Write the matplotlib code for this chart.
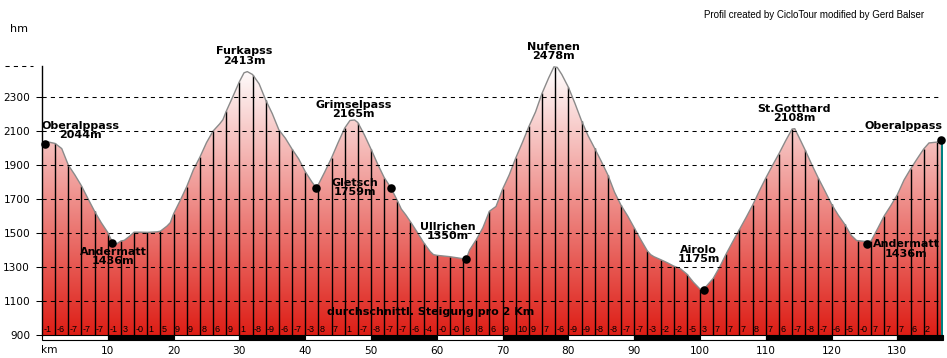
import numpy as np
import matplotlib
matplotlib.use("Agg")
import matplotlib.pyplot as plt
from matplotlib.patches import Polygon, Rectangle
from matplotlib.colors import LinearSegmentedColormap
from matplotlib.lines import Line2D
import matplotlib.transforms as mtransforms

# ---------------- data ----------------
profile_km = [0.0, 0.8, 2.0, 3.0, 4.0, 5.0, 6.0, 7.0, 8.0, 9.0, 10.0, 10.8, 11.2, 12.0, 12.5,
              13.3, 14.0, 15.0, 16.0, 17.5, 18.0, 19.0, 19.5, 20.0, 21.0, 22.0, 23.0, 24.0,
              25.0, 26.0, 27.0, 27.5, 28.0, 29.0, 30.0, 30.7, 31.2, 32.0, 33.0, 34.0, 35.0,
              36.0, 37.0, 38.0, 39.0, 40.0, 41.0, 41.6, 42.0, 43.0, 44.0, 45.0, 46.0, 46.8,
              47.5, 48.0, 49.0, 50.0, 51.0, 52.0, 53.0, 54.0, 54.6, 55.3, 56.0, 57.0, 58.0,
              59.0, 59.5, 60.0, 62.0, 64.0, 64.5, 65.0, 66.0, 67.0, 68.0, 69.0, 70.0, 71.0,
              72.0, 73.0, 74.0, 75.0, 76.0, 77.0, 77.8, 78.3, 79.0, 80.0, 81.0, 82.0, 83.0,
              84.0, 85.0, 86.0, 87.0, 88.0, 89.0, 90.0, 91.0, 92.0, 92.5, 93.0, 94.0, 95.0,
              96.0, 97.0, 98.0, 99.0, 100.0, 100.5, 101.0, 102.0, 103.0, 104.0, 105.0, 106.0,
              107.0, 108.0, 109.0, 110.0, 111.0, 112.0, 113.0, 114.0, 114.4, 115.0, 116.0,
              117.0, 118.0, 119.0, 120.0, 121.0, 122.0, 123.0, 123.8, 125.0, 126.0, 127.0,
              128.0, 129.0, 130.0, 131.0, 132.0, 133.0, 134.0, 134.8, 136.0, 136.8]
profile_elev = [2035, 2035, 2025, 1995, 1898, 1840, 1776, 1700, 1626, 1560, 1502, 1437, 1432,
                1452, 1456, 1480, 1504, 1504, 1503, 1506, 1510, 1540, 1560, 1612, 1690, 1772,
                1870, 1945, 2030, 2098, 2140, 2165, 2214, 2300, 2388, 2440, 2447, 2430, 2375,
                2280, 2200, 2105, 2055, 1992, 1935, 1860, 1800, 1768, 1784, 1860, 1940, 2030,
                2115, 2160, 2163, 2148, 2075, 1992, 1905, 1825, 1766, 1690, 1640, 1605, 1565,
                1505, 1443, 1390, 1372, 1368, 1360, 1348, 1350, 1400, 1460, 1530, 1627, 1655,
                1757, 1840, 1940, 2030, 2125, 2210, 2320, 2410, 2475, 2472, 2430, 2355, 2260,
                2158, 2070, 1996, 1920, 1840, 1740, 1662, 1600, 1530, 1460, 1394, 1372, 1360,
                1343, 1325, 1305, 1290, 1258, 1210, 1170, 1165, 1188, 1232, 1300, 1378, 1450,
                1520, 1590, 1663, 1745, 1822, 1895, 1965, 2040, 2110, 2112, 2065, 1985, 1900,
                1820, 1745, 1668, 1605, 1550, 1485, 1455, 1450, 1452, 1525, 1600, 1660, 1725,
                1810, 1875, 1935, 1993, 2028, 2033, 2045]

grade_labels = ["-1", "-6", "-7", "-7", "-7", "-1", "3", "-0", "1", "5", "9", "9", "8", "6", "9",
                "1", "-8", "-9", "-6", "-7", "-3", "8", "7", "1", "-7", "-8", "-7", "-7", "-6",
                "-4", "-0", "-0", "6", "8", "6", "9", "10", "9", "7", "-6", "-9", "-9", "-8",
                "-8", "-7", "-7", "-3", "-2", "-2", "-5", "3", "7", "7", "7", "8", "7", "6",
                "-7", "-8", "-7", "-6", "-5", "-0", "7", "7", "7", "6", "2"]
grade_step_km = 2

dot_km = [0.4, 10.6, 41.6, 53.0, 64.5, 100.6, 125.4, 136.7]
dot_elev = [2020, 1441, 1765, 1765, 1349, 1162, 1435, 2045]

place_names = ["Oberalppass\n2044m", "Andermatt\n1436m", "Furkapss\n2413m",
               "Grimselpass\n2165m", "Gletsch\n1759m", "Ullrichen\n1350m",
               "Nufenen\n2478m", "Airolo\n1175m", "St.Gotthard\n2108m",
               "Andermatt\n1436m", "Oberalppass"]
place_km = [5.9, 10.8, 30.7, 47.3, 47.6, 61.7, 77.7, 99.8, 114.3, 131.3, 131.0]
place_elev = [2101, 1361, 2538, 2224, 1766, 1508, 2565, 1373, 2201, 1405, 2127]

ytick_values = [900, 1100, 1300, 1500, 1700, 1900, 2100, 2300]
xtick_values = [10, 20, 30, 40, 50, 60, 70, 80, 90, 100, 110, 120, 130]

X_MAX = 136.93
Y_MIN, Y_MAX = 900, 2480

# ---------------- figure ----------------
W, H = 947, 358
fig = plt.figure(figsize=(W / 100, H / 100), dpi=100)
fig.patch.set_facecolor("white")
ax = fig.add_axes([42 / W, (H - 335) / H, (943 - 42) / W, (335 - 66) / H])
ax.set_xlim(0, X_MAX)
ax.set_ylim(Y_MIN, Y_MAX)

km = np.array(profile_km)
el = np.array(profile_elev)

# gradient-filled profile
verts = [(km[0], Y_MIN)] + list(zip(km, el)) + [(km[-1], Y_MIN)]
poly = Polygon(verts, closed=True, facecolor="none", edgecolor="none")
ax.add_patch(poly)
cmap = LinearSegmentedColormap.from_list("redwhite", [(222 / 255, 30 / 255, 22 / 255), (1, 1, 1)])
grad = np.linspace(0, 1, 256).reshape(-1, 1)
im = ax.imshow(grad, extent=[0, X_MAX, Y_MIN, Y_MAX], origin="lower", aspect="auto",
               cmap=cmap, zorder=1)
im.set_clip_path(poly)

# vertical 2-km lines
grid_km = np.arange(grade_step_km, km[-1], grade_step_km)
ax.vlines(grid_km, Y_MIN, np.interp(grid_km, km, el), colors="black", lw=1.0, zorder=2)

# outline
ax.plot(km, el, color="#8a8a8a", lw=1.0, zorder=3)

# right teal line
ax.vlines([km[-1]], Y_MIN, el[-1], colors="#008080", lw=1.5, zorder=3)

# dashed grid lines
ax.hlines(ytick_values[1:], 0, 136.2, colors="black", lw=0.75,
          linestyles=(0, (4, 4)), zorder=4)

# dots
ax.scatter(dot_km, dot_elev, s=38, color="black", zorder=6, clip_on=False, linewidths=0)

# place labels
for name, xk, ye in zip(place_names, place_km, place_elev):
    ax.text(xk, ye, name, ha="center", va="center", multialignment="center",
            fontsize=8, fontweight="bold", family="DejaVu Sans", linespacing=0.95,
            color="black", zorder=7, clip_on=False)

# gradient numbers
for i, lab in enumerate(grade_labels):
    ax.text(i * grade_step_km + 0.2, 935, lab, ha="left", va="center",
            fontsize=6.5, family="Liberation Sans", color="black", zorder=7)

ax.text(59.0, 1038, "durchschnittl. Steigung pro 2 Km", ha="center", va="center",
        fontsize=8, fontweight="bold", family="DejaVu Sans", color="black", zorder=7)

# spines & ticks
for s in ["top", "right", "bottom"]:
    ax.spines[s].set_visible(False)
ax.spines["left"].set_color("black")
ax.spines["left"].set_linewidth(1.0)
ax.spines["left"].set_zorder(8)

ax.set_yticks(ytick_values)
ax.set_yticklabels([str(v) for v in ytick_values], fontsize=7.6, family="DejaVu Sans")
ax.tick_params(axis="y", length=4, width=0.75, pad=4.5, direction="out")
ax.set_xticks(xtick_values)
ax.set_xticklabels([str(v) for v in xtick_values], fontsize=7.6, family="DejaVu Sans")
ax.tick_params(axis="x", length=0, pad=8)

# km bar below axis
trans = mtransforms.blended_transform_factory(ax.transData, ax.transAxes)
bar_h = 5 / (335 - 66)
for i, x0 in enumerate(range(0, 140, 10)):
    w = min(10, X_MAX - x0)
    if w <= 0:
        continue
    ax.add_patch(Rectangle((x0, -bar_h), w, bar_h, transform=trans,
                           facecolor="white" if i % 2 == 0 else "black",
                           edgecolor="black", lw=0.8, clip_on=False, zorder=5))

ax.text(-0.15, -15 / (335 - 66), "km", transform=trans, ha="left", va="center",
        fontsize=7.6, family="DejaVu Sans")

# top dashes left of axis, "hm" and credit
fig.add_artist(Line2D([5 / W, 33 / W], [(H - 66) / H] * 2, color="black", lw=0.75,
                      linestyle=(0, (4, 4)), transform=fig.transFigure))
fig.text(18.5 / W, (H - 29) / H, "hm", ha="center", va="center", fontsize=8,
         family="DejaVu Sans")
fig.text(814.5 / W, (H - 15) / H, "Profil created by CicloTour modified by Gerd Balser",
         ha="center", va="center", fontsize=7, family="Liberation Sans")

fig.savefig("out.png", dpi=100, facecolor="white")
